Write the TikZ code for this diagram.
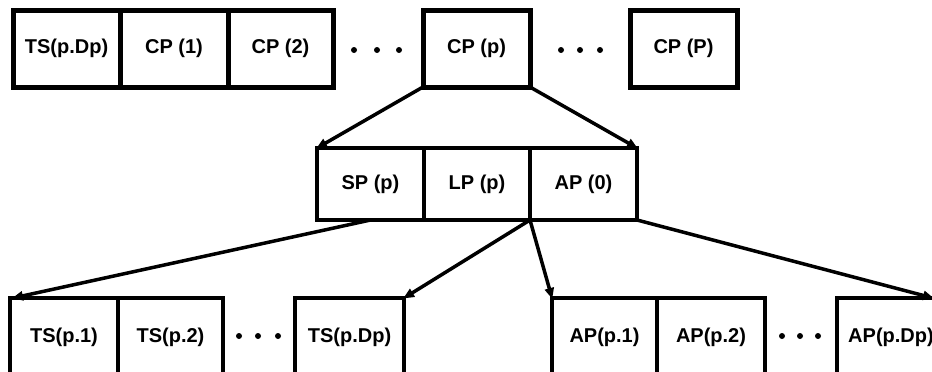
\documentclass[tikz,border=0pt]{standalone}
\usepackage{fontspec}
\setmainfont{Liberation Sans}
\usetikzlibrary{arrows.meta}
\tikzset{
  topbox/.style={draw, line width=5pt, rectangle, outer sep=0pt, minimum height=77pt, inner sep=0pt, font=\fontsize{20}{20}\selectfont\bfseries},
  midbox/.style={draw, line width=4pt, rectangle, outer sep=0pt, minimum height=72pt, inner sep=0pt, font=\fontsize{20}{20}\selectfont\bfseries},
  lowbox/.style={draw, line width=4pt, rectangle, outer sep=0pt, minimum height=78pt, inner sep=0pt, font=\fontsize{20}{20}\selectfont\bfseries},
  conn/.style={line width=3.5pt, -{Triangle[length=11pt,width=9pt]}, shorten >=-1pt},
  dotmark/.style={fill=black, circle, inner sep=0pt, minimum size=6pt}
}
\begin{document}
\begin{tikzpicture}[x=1pt,y=-1pt]
\useasboundingbox (0,0) rectangle (932,372);
\clip (0,0) rectangle (932,372);
% top row
\node[topbox, minimum width=107pt] (tsd) at (66.5,48.5) {TS(p.Dp)};
\node[topbox, minimum width=108pt] (cp1) at (174,48.5) {CP (1)};
\node[topbox, minimum width=105pt] (cp2) at (280.5,48.5) {CP (2)};
\node[dotmark] (d1) at (354,50) {};
\node[dotmark] (d2) at (377,50) {};
\node[dotmark] (d3) at (399,50) {};
\node[topbox, minimum width=107pt] (cpp) at (476.5,48.5) {CP (p)};
\node[dotmark] (d4) at (561,50) {};
\node[dotmark] (d5) at (580,50) {};
\node[dotmark] (d6) at (600,50) {};
\node[topbox, minimum width=107pt] (cpP) at (683.5,48.5) {CP (P)};
% middle row
\node[midbox, minimum width=107pt] (sp) at (370.5,184) {SP (p)};
\node[midbox, minimum width=106pt] (lp) at (477,184) {LP (p)};
\node[midbox, minimum width=107pt] (ap0) at (583.5,184) {AP (0)};
% bottom row
\node[lowbox, minimum width=108pt] (ts1) at (64,337) {TS(p.1)};
\node[lowbox, minimum width=105pt] (ts2) at (170.5,337) {TS(p.2)};
\node[dotmark] (d7) at (239,336) {};
\node[dotmark] (d8) at (258,336) {};
\node[dotmark] (d9) at (278,336) {};
\node[lowbox, minimum width=109pt] (tsD) at (349.5,337) {TS(p.Dp)};
\node[lowbox, minimum width=105pt] (ap1) at (604.5,337) {AP(p.1)};
\node[lowbox, minimum width=108pt] (ap2) at (711,337) {AP(p.2)};
\node[dotmark] (d10) at (782,336) {};
\node[dotmark] (d11) at (800,336) {};
\node[dotmark] (d12) at (818,336) {};
\node[lowbox, minimum width=108pt] (apD) at (891,337) {AP(p.Dp)};
% connectors
\draw[conn] (cpp.south west) -- (sp.north west);
\draw[conn] (cpp.south east) -- (ap0.north east);
\draw[conn] (sp.south) -- ([xshift=3pt]ts1.north west);
\draw[conn] (ap0.south west) -- (tsD.north east);
\draw[conn] (ap0.south west) -- (ap1.north west);
\draw[conn] (ap0.south east) -- ([xshift=-12pt]apD.north east);
\end{tikzpicture}
\end{document}
